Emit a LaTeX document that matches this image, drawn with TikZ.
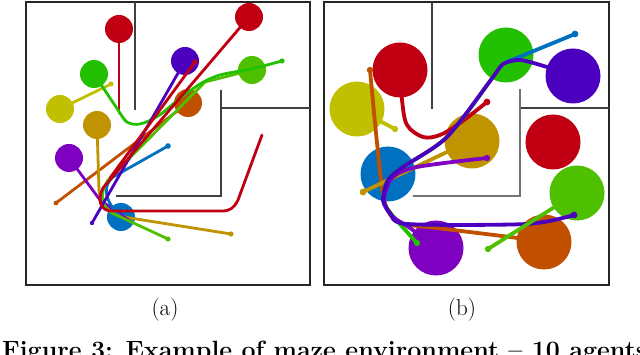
\documentclass[tikz,border=0pt]{standalone}
\begin{document}
\definecolor{cRed}{HTML}{C00012}
\definecolor{cIndigo}{HTML}{4B00C0}
\definecolor{cGreen}{HTML}{22C000}
\definecolor{cLgreen}{HTML}{4EC000}
\definecolor{cOlive}{HTML}{C0C000}
\definecolor{cOrange}{HTML}{C05000}
\definecolor{cGold}{HTML}{C09300}
\definecolor{cViolet}{HTML}{7E00C0}
\definecolor{cBlue}{HTML}{0070C0}
\begin{tikzpicture}[x=1pt,y=-1pt,
  frame/.style={draw=black!85,line width=1.8pt},
  wall/.style={draw=black!75,line width=1.6pt},
  trajA/.style={line width=2.8pt,line cap=round,line join=round},
  trajB/.style={line width=3.8pt,line cap=round,line join=round},
  lbl/.style={inner sep=0pt,font=\fontsize{23}{28}\selectfont},
  figcaption/.style={inner sep=0pt,font=\fontsize{25}{30}\selectfont\bfseries}]
\useasboundingbox (0,0) rectangle (640,355);
\fill[white] (0,0) rectangle (640,355);
% ---------------- panel (a) ----------------
\draw[frame] (26,2) rectangle (310,285);
\draw[wall] (135,2) -- (135,110);
\draw[wall] (221,108) -- (310,108);
\draw[wall] (221,90) -- (221,196) -- (116,196);
\coordinate (aRed1) at (249,17);
\coordinate (aRed2) at (119,29);
\coordinate (aIndigo) at (185,61);
\coordinate (aGreen) at (94,74);
\coordinate (aLgreen) at (252,70);
\coordinate (aOlive) at (60,109);
\coordinate (aOrange) at (188,103);
\coordinate (aGold) at (97,125);
\coordinate (aViolet) at (69,158);
\coordinate (aBlue) at (121,217);
\foreach \n/\c in {aRed1/cRed,aRed2/cRed,aIndigo/cIndigo,aGreen/cGreen,aLgreen/cLgreen,aOlive/cOlive,aOrange/cOrange,aGold/cGold,aViolet/cViolet,aBlue/cBlue}
  \fill[\c] (\n) circle (14);
% trajectories (a)
\draw[trajA,cOlive] (aOlive) -- (111,84);
\fill[cOlive] (111,84) circle (2.6);
\draw[trajA,cRed] (aRed2) -- (119,113);
\draw[trajA,cOrange] (aOrange) -- (56,203);
\fill[cOrange] (56,203) circle (2.4);
\draw[trajA,cGold] (aGold) -- (99,190) .. controls (100,205) and (110,214) .. (130,218) -- (231,234);
\fill[cGold] (231,234) circle (2.6);
\draw[trajA,cViolet] (aViolet) -- (100,200) -- (130,221);
\draw[trajA,cBlue] (168,146) -- (113,177) .. controls (103,185) and (103,200) .. (aBlue);
\fill[cBlue] (168,146) circle (2.8);
\draw[trajA,cLgreen] (aLgreen) -- (205,82) -- (108,180) .. controls (100,192) and (100,205) .. (112,213) -- (168,239);
\fill[cLgreen] (168,239) circle (2.6);
\draw[trajA,cGreen] plot[smooth,tension=0.55] coordinates {(282,61) (251,69) (220,75) (200,84) (178,100) (158,116) (140,124) (127,122) (118,110) (106,92) (94,74)};
\fill[cGreen] (282,61) circle (2.6);
\draw[trajA,cIndigo] (aIndigo) -- (92,223);
\fill[cIndigo] (92,223) circle (2.2);
\draw[trajA,cRed] (195,62) -- (110,178);
\fill[cRed] (195,62) circle (2.6);
\draw[trajA,cRed] (262,135) -- (238,200) .. controls (234,208) and (230,211) .. (222,211) -- (112,211) .. controls (100,211) and (97,200) .. (103,188) -- (aRed1);
\node[lbl] (capa) at (165,310) {(a)};
% ---------------- panel (b) ----------------
\draw[frame] (324,2) rectangle (609,285);
\draw[wall] (432,2) -- (432,109);
\draw[wall] (520,108) -- (609,108);
\draw[wall,draw=black!55] (520,89) -- (520,196) -- (413,196);
\coordinate (bRed1) at (400,70);
\coordinate (bOlive) at (357,109);
\coordinate (bGreen) at (506,55);
\coordinate (bIndigo) at (573,76);
\coordinate (bGold) at (472,141);
\coordinate (bRed2) at (553,142);
\coordinate (bBlue) at (388,174);
\coordinate (bLgreen) at (577,193);
\coordinate (bViolet) at (436,248);
\coordinate (bOrange) at (544,242);
\foreach \n/\c in {bRed1/cRed,bOlive/cOlive,bGreen/cGreen,bIndigo/cIndigo,bGold/cGold,bRed2/cRed,bBlue/cBlue,bLgreen/cLgreen,bViolet/cViolet,bOrange/cOrange}
  \fill[\c] (\n) circle (27.5);
% trajectories (b)
\draw[trajB,cOlive] (bOlive) -- (395,129);
\fill[cOlive] (395,129) circle (3.2);
\draw[trajB,cRed] plot[smooth,tension=0.55] coordinates {(bRed1) (402,100) (407,125) (423,137) (440,135) (460,123) (487,102)};
\fill[cRed] (487,102) circle (3.4);
\draw[trajB,cOrange] plot[smooth,tension=0.4] coordinates {(370,70) (383,195) (398,222) (437,228) (510,237) (bOrange)};
\fill[cOrange] (370,70) circle (3.2);
\draw[trajB,cGold] (bGold) -- (447,152) -- (363,192);
\fill[cGold] (363,192) circle (3.4);
\draw[trajB,cGreen] plot[smooth,tension=0.5] coordinates {(bGreen) (493,77) (447,137) (403,167) (388,180) (383,200) (393,216) (417,243)};
\fill[cGreen] (417,243) circle (3.2);
\draw[trajB,cViolet] plot[smooth,tension=0.5] coordinates {(487,158) (417,167) (392,178) (384,200) (392,216) (410,228) (bViolet)};
\fill[cViolet] (487,158) circle (3.2);
\draw[trajB,cBlue] (575,34) -- (507,62);
\fill[cBlue] (575,34) circle (3.4);
\draw[trajB,cIndigo] plot[smooth,tension=0.45] coordinates {(bIndigo) (547,67) (520,60) (503,64) (493,77) (447,137) (403,167) (388,180) (383,200) (390,213) (407,224) (527,224) (574,215)};
\fill[cIndigo] (574,215) circle (3.4);
\draw[trajB,cLgreen] (488,249) -- (553,208) -- (bLgreen);
\fill[cLgreen] (488,249) circle (3.2);
\node[lbl] (capb) at (462,310) {(b)};
% ---------------- caption ----------------
\node[figcaption,anchor=base west] (fig) at (2,359) {Figure 3: Example of maze environment -- 10 agents};
\end{tikzpicture}
\end{document}
